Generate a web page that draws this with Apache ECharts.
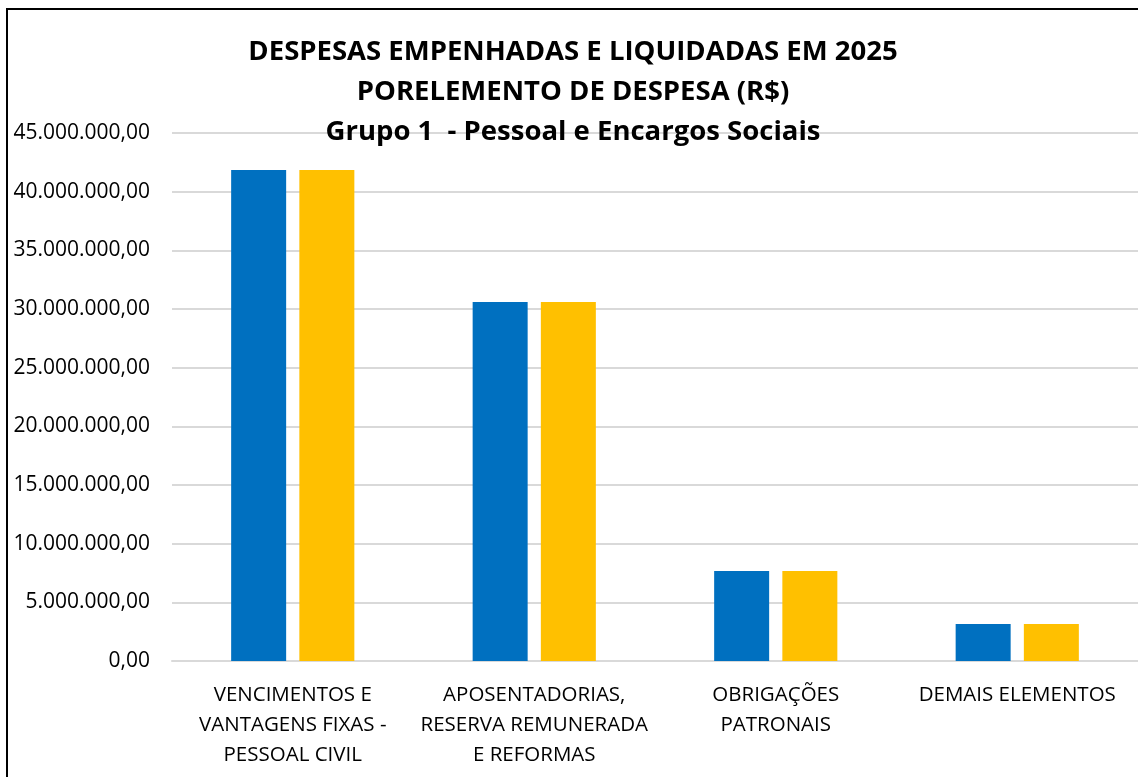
<!DOCTYPE html>
<html>
<head>
<meta charset="utf-8">
<title>Despesas empenhadas e liquidadas 2025</title>
<script src="https://cdn.jsdelivr.net/npm/echarts@6/dist/echarts.min.js"></script>
<style>
  html, body { margin: 0; padding: 0; background: #fff; }
  #frame { position: absolute; left: 6px; top: 8px; width: 1200px; height: 800px;
           border-left: 2px solid #000; border-top: 2px solid #000; }
  #chart { position: absolute; left: 0; top: 0; width: 1138px; height: 777px; }
</style>
</head>
<body>
<div id="frame"></div>
<div id="chart"></div>
<script>
// categorias (elementos de despesa)
const categorias = [
  'VENCIMENTOS E\nVANTAGENS FIXAS -\nPESSOAL CIVIL',
  'APOSENTADORIAS,\nRESERVA REMUNERADA\nE REFORMAS',
  'OBRIGAÇÕES\nPATRONAIS',
  'DEMAIS ELEMENTOS'
];
// valores (R$)
const empenhadas = [41850000, 30600000, 7670000, 3150000];
const liquidadas = [41850000, 30600000, 7670000, 3150000];
const yMax = 45000000;
const yStep = 5000000;

// 45000000 -> "45.000.000,00"
function formatBR(v) {
  const inteiro = Math.round(v).toString().replace(/\B(?=(\d{3})+(?!\d))/g, '.');
  return inteiro + ',00';
}

const chart = echarts.init(document.getElementById('chart'));
const fonte = '"Open Sans", sans-serif';

const option = {
  animation: false,
  title: {
    text: 'DESPESAS EMPENHADAS E LIQUIDADAS EM 2025\nPORELEMENTO DE DESPESA (R$)\nGrupo 1  - Pessoal e Encargos Sociais',
    left: 568,
    textAlign: 'center',
    top: 27,
    textStyle: {
      fontFamily: fonte,
      fontWeight: 'bold',
      fontSize: 27.5,
      lineHeight: 40,
      color: '#000'
    }
  },
  grid: { left: 172, right: 0, top: 133, bottom: 116 },
  xAxis: {
    type: 'category',
    data: categorias,
    axisLine: { lineStyle: { color: '#d9d9d9', width: 2 } },
    axisTick: { show: false },
    axisLabel: {
      interval: 0,
      margin: 19,
      color: '#000',
      fontFamily: fonte,
      fontSize: 20.5,
      lineHeight: 30
    }
  },
  yAxis: {
    type: 'value',
    min: 0,
    max: yMax,
    interval: yStep,
    axisLine: { show: false },
    axisTick: { show: false },
    splitLine: { lineStyle: { color: '#d9d9d9', width: 2 } },
    axisLabel: {
      margin: 22,
      color: '#000',
      fontFamily: fonte,
      fontSize: 21,
      formatter: formatBR
    }
  },
  series: [
    {
      name: 'Empenhadas',
      type: 'bar',
      data: empenhadas,
      barWidth: 55,
      barGap: '24%',
      itemStyle: { color: '#0070c0' }
    },
    {
      name: 'Liquidadas',
      type: 'bar',
      data: liquidadas,
      barWidth: 55,
      itemStyle: { color: '#ffc000' }
    }
  ]
};
chart.setOption(option);
</script>
</body>
</html>
